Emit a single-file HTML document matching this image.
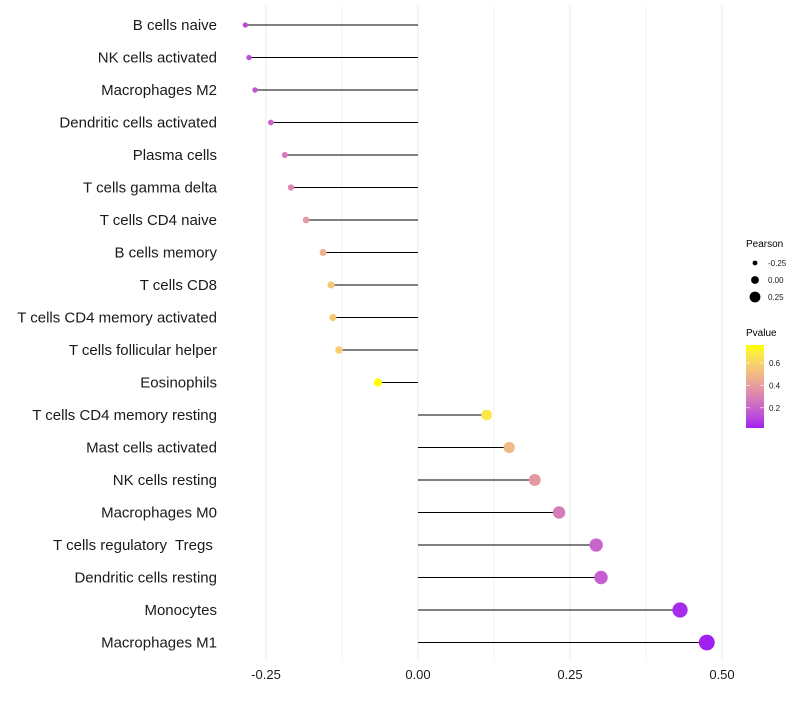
<!DOCTYPE html>
<html><head><meta charset="utf-8"><style>
body{margin:0;background:#fff;font-family:"Liberation Sans",sans-serif}
svg text{font-family:"Liberation Sans",sans-serif;white-space:pre}
</style></head><body>
<svg id="chart" width="800" height="700"></svg>
<script>
const categories=["B cells naive","NK cells activated","Macrophages M2","Dendritic cells activated","Plasma cells","T cells gamma delta","T cells CD4 naive","B cells memory","T cells CD8","T cells CD4 memory activated","T cells follicular helper","Eosinophils","T cells CD4 memory resting","Mast cells activated","NK cells resting","Macrophages M0","T cells regulatory  Tregs ","Dendritic cells resting","Monocytes","Macrophages M1"];
const pearson=[-0.284,-0.278,-0.268,-0.242,-0.219,-0.209,-0.184,-0.156,-0.143,-0.140,-0.130,-0.066,0.113,0.150,0.192,0.232,0.293,0.301,0.431,0.475];
const pvalue=[0.12,0.13,0.15,0.2,0.28,0.32,0.38,0.47,0.55,0.56,0.58,0.76,0.68,0.5,0.38,0.28,0.2,0.18,0.04,0.02];
const xTicks=[-0.25,0,0.25,0.5];
const xTickLabels=["-0.25","0.00","0.25","0.50"];
const sizeLegend=[-0.25,0,0.25];
const pTicks=[0.2,0.4,0.6];
const NS="http://www.w3.org/2000/svg";
const svg=document.getElementById('chart');
function el(t,a,p){const e=document.createElementNS(NS,t);for(const k in a)e.setAttribute(k,a[k]);(p||svg).appendChild(e);return e;}
const x=v=>418+v*608;
const y=i=>25+i*32.5;
const r=v=>4.6+v*7;
function toLab(c){let [R,G,B]=c.map(v=>{v/=255;return v<=0.04045?v/12.92:Math.pow((v+0.055)/1.055,2.4)});
let X=(0.4124*R+0.3576*G+0.1805*B)/0.95047,Y=0.2126*R+0.7152*G+0.0722*B,Z=(0.0193*R+0.1192*G+0.9505*B)/1.08883;
const f=t=>t>0.008856?Math.cbrt(t):7.787*t+16/116;return [116*f(Y)-16,500*(f(X)-f(Y)),200*(f(Y)-f(Z))];}
function fromLab(l){let fy=(l[0]+16)/116,fx=fy+l[1]/500,fz=fy-l[2]/200;const fi=t=>t*t*t>0.008856?t*t*t:(t-16/116)/7.787;
let X=fi(fx)*0.95047,Y=fi(fy),Z=fi(fz)*1.08883;
let R=3.2406*X-1.5372*Y-0.4986*Z,G=-0.9689*X+1.8758*Y+0.0415*Z,B=0.0557*X-0.204*Y+1.057*Z;
return 'rgb('+[R,G,B].map(v=>{v=v<=0.0031308?12.92*v:1.055*Math.pow(v,1/2.4)-0.055;return Math.round(Math.max(0,Math.min(1,v))*255)}).join(',')+')';}
const L0=toLab([160,32,240]),L1=toLab([255,255,0]);
const pmin=0.02,pmax=0.76;
function col(p){const t=Math.max(0,Math.min(1,(p-pmin)/(pmax-pmin)));return fromLab(L0.map((v,i)=>v+(L1[i]-v)*t));}
[-0.375,-0.25,-0.125,0,0.125,0.25,0.375,0.5,0.625].forEach(v=>{if(x(v)<236||x(v)>760)return;
const g=el('line',{x1:x(v),x2:x(v),y1:5,y2:660,stroke:'#ebebeb','stroke-width':Number.isInteger(v*4)?1:0.6});
});
categories.forEach((c,i)=>{
const t=el('text',{x:217,y:y(i)+5,'text-anchor':'end','font-size':15,fill:'#1a1a1a'});t.textContent=c;

const s=el('line',{x1:x(0),x2:x(pearson[i]),y1:y(i),y2:y(i),stroke:'#000','stroke-width':1});

const d=el('circle',{cx:x(pearson[i]),cy:y(i),r:r(pearson[i]),fill:col(pvalue[i])});

});
xTicks.forEach((v,i)=>{const t=el('text',{x:x(v),y:679,'text-anchor':'middle','font-size':13,fill:'#1a1a1a'});t.textContent=xTickLabels[i];
});
const lt=el('text',{x:746,y:247,'font-size':10,fill:'#000'});lt.textContent='Pearson';

sizeLegend.forEach((v,i)=>{const cy=263+i*17;
const c=el('circle',{cx:755,cy:cy,r:r(v)*0.85,fill:'#000'});
const t=el('text',{x:768,y:cy+3,'font-size':8,fill:'#1a1a1a'});t.textContent=v===0?'0.00':v.toFixed(2);
});
const pt=el('text',{x:746,y:336,'font-size':10,fill:'#000'});pt.textContent='Pvalue';

const defs=el('defs',{});const lg=el('linearGradient',{id:'pg',x1:0,y1:1,x2:0,y2:0},defs);
for(let k=0;k<=10;k++){el('stop',{offset:k/10,'stop-color':col(pmin+(pmax-pmin)*k/10)},lg);}
const py=p=>428-(p-pmin)/(pmax-pmin)*83;
const bar=el('rect',{x:746,y:345,width:18,height:83,fill:'url(#pg)'});
pTicks.forEach(p=>{el('line',{x1:746,x2:750,y1:py(p),y2:py(p),stroke:'#fff','stroke-width':0.6});el('line',{x1:760,x2:764,y1:py(p),y2:py(p),stroke:'#fff','stroke-width':0.6});
const t=el('text',{x:769,y:py(p)+3,'font-size':8,fill:'#1a1a1a'});t.textContent=p.toFixed(1);
});
</script>
</body></html>
